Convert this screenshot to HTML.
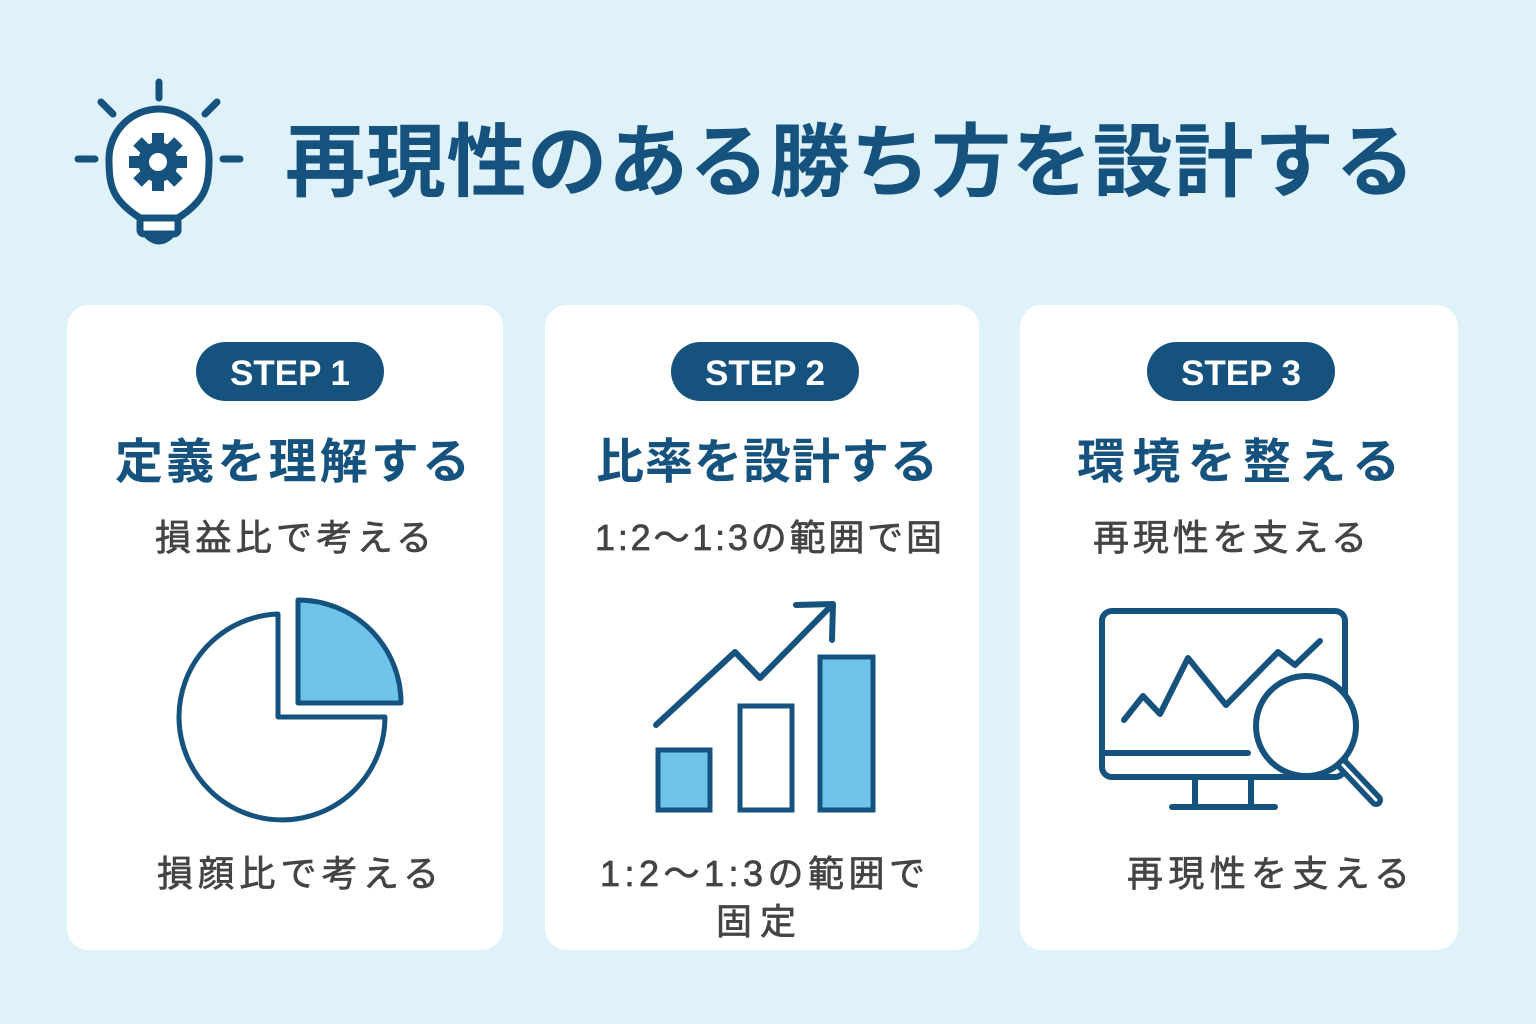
<!DOCTYPE html>
<html><head><meta charset="utf-8"><style>
html,body{margin:0;padding:0;width:1536px;height:1024px;overflow:hidden;background:#dff2f9}
svg{display:block}
text{font-family:"Liberation Sans","Noto Sans CJK JP",sans-serif}
</style></head><body>
<svg width="1536" height="1024" viewBox="0 0 1536 1024" xmlns="http://www.w3.org/2000/svg">
<rect width="1536" height="1024" fill="#dff2f9"/>
<g stroke="#16527e" stroke-width="7" stroke-linecap="round" fill="none">
<line x1="159" y1="82" x2="159" y2="98"/>
<line x1="101" y1="102" x2="113" y2="114"/>
<line x1="217" y1="102" x2="205" y2="114"/>
<line x1="78" y1="159" x2="95" y2="159"/>
<line x1="223" y1="159" x2="240" y2="159"/>
<path d="M140 218 C112 200 109 186 109 159 A50 50 0 0 1 209 159 C209 186 206 200 178 218 Z" fill="#fff"/>
<rect x="140" y="218" width="38" height="16" rx="4" fill="#fff"/>
<path d="M148 236 Q159 246 170 236"/>
</g>
<g fill="#16527e" transform="translate(158,162)">
<circle r="20"/>
<g><rect x="-6" y="-29" width="12" height="58"/><rect x="-29" y="-6" width="58" height="12"/>
<rect x="-6" y="-29" width="12" height="58" transform="rotate(45)"/><rect x="-6" y="-29" width="12" height="58" transform="rotate(-45)"/></g>
<circle r="9" fill="#fff"/>
</g>
<text x="285" y="190" font-size="80" font-weight="bold" fill="#16527e" textLength="1130" lengthAdjust="spacing">再現性のある勝ち方を設計する</text>
<rect x="67" y="305" width="436" height="645" rx="22" fill="#fff"/>
<rect x="545" y="305" width="434" height="645" rx="22" fill="#fff"/>
<rect x="1020" y="305" width="438" height="645" rx="22" fill="#fff"/>
<rect x="196" y="342" width="188" height="59" rx="29.5" fill="#16527e"/>
<rect x="671" y="342" width="188" height="59" rx="29.5" fill="#16527e"/>
<rect x="1147" y="342" width="188" height="59" rx="29.5" fill="#16527e"/>
<g font-size="35" font-weight="bold" fill="#fff" text-anchor="middle">
<text x="290" y="385">STEP 1</text><text x="765" y="385">STEP 2</text><text x="1241" y="385">STEP 3</text>
</g>
<g font-size="48" font-weight="bold" fill="#16527e">
<text x="115" y="478" textLength="355" lengthAdjust="spacing">定義を理解する</text>
<text x="596" y="478" textLength="342" lengthAdjust="spacing">比率を設計する</text>
<text x="1077" y="478" textLength="323" lengthAdjust="spacing">環境を整える</text>
</g>
<g font-size="36" fill="#444" stroke="#444" stroke-width="0.7">
<text x="155" y="550" textLength="277" lengthAdjust="spacing">損益比で考える</text>
<text x="595" y="550" textLength="347" lengthAdjust="spacing">1:2〜1:3の範囲で固</text>
<text x="1093" y="550" textLength="274" lengthAdjust="spacing">再現性を支える</text>
<text x="157" y="886" textLength="282" lengthAdjust="spacing">損顔比で考える</text>
<text x="600" y="886" textLength="325" lengthAdjust="spacing">1:2〜1:3の範囲で</text>
<text x="716" y="934" textLength="80" lengthAdjust="spacing">固定</text>
<text x="1127" y="886" textLength="283" lengthAdjust="spacing">再現性を支える</text>
</g>
<g stroke="#16527e" stroke-width="5" stroke-linejoin="round">
<path d="M278 614 L278 717 L385 717 A103 103 0 1 1 278 614 Z" fill="#fff"/>
<path d="M298 600 L298 703 L401 703 A103 103 0 0 0 298 600 Z" fill="#6ec4ea"/>
</g>
<g stroke="#16527e" stroke-width="5" fill="#6ec4ea">
<rect x="658" y="750" width="52" height="60"/>
<rect x="740" y="706" width="52" height="104" fill="#fff"/>
<rect x="820" y="657" width="53" height="153"/>
</g>
<g stroke="#16527e" stroke-width="6" fill="none" stroke-linecap="round" stroke-linejoin="round">
<polyline points="656,725 735,652 760,678 830,607"/>
<polyline points="796,605 833,604 832,640"/>
</g>
<g stroke="#16527e" stroke-width="6" fill="none" stroke-linecap="round" stroke-linejoin="round">
<rect x="1102" y="611" width="243" height="166" rx="10"/>
<line x1="1104" y1="753" x2="1248" y2="753"/>
<line x1="1195" y1="780" x2="1195" y2="805"/>
<line x1="1251" y1="780" x2="1251" y2="805"/>
<line x1="1172" y1="807" x2="1275" y2="807"/>
<polyline points="1124,720 1143,696 1160,714 1188,658 1226,705 1278,652 1295,665 1320,641"/>
<circle cx="1306" cy="726" r="50" fill="#fff"/>
<line x1="1343" y1="765" x2="1376" y2="800" stroke-width="14"/>
</g>
<line x1="1343" y1="765" x2="1376" y2="800" stroke="#fff" stroke-width="3" stroke-linecap="round"/>
</svg>
</body></html>
